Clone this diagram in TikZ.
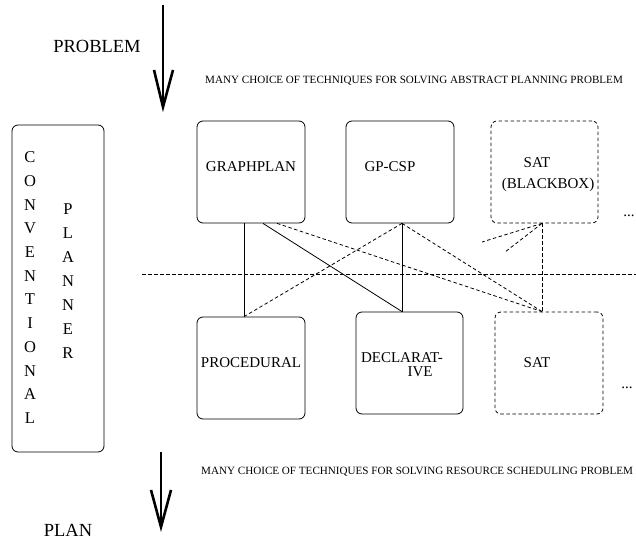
\documentclass[tikz,border=0pt]{standalone}
\usepackage{fontspec}
\setmainfont{Liberation Serif}
\usetikzlibrary{calc}
\begin{document}
\begin{tikzpicture}[x=1pt,y=-1pt,
  box/.style={draw,rounded corners=6pt,line width=0.8pt,inner sep=0pt,minimum width=108pt,minimum height=102pt},
  dbox/.style={box,dash pattern=on 3.5pt off 2.5pt},
  lbl/.style={font=\fontsize{15}{15}\selectfont,inner sep=0pt},
  letter/.style={font=\fontsize{16.5}{16.5}\selectfont,inner sep=0pt},
  note/.style={font=\fontsize{11.1}{11.1}\selectfont,inner sep=0pt,anchor=west},
  big/.style={font=\fontsize{18.5}{18.5}\selectfont,inner sep=0pt},
  link/.style={line width=0.8pt},
  dlink/.style={line width=0.8pt,dash pattern=on 3.5pt off 2.5pt},
  flow/.style={line width=2.6pt}]
\useasboundingbox (0,0) rectangle (636,540);
\clip (0,0) rectangle (636,540);

% flow arrows
\coordinate (ptop) at (163,5);
\coordinate (pbot) at (163,107);
\draw[flow] (ptop) -- (pbot);
\draw[flow,line join=miter] ($(pbot)+(-9,-37)$) -- (pbot) -- ($(pbot)+(10,-37)$);
\coordinate (qtop) at (161,452);
\coordinate (qbot) at (161,527);
\draw[flow] (qtop) -- (qbot);
\draw[flow,line join=miter] ($(qbot)+(-10,-37)$) -- (qbot) -- ($(qbot)+(10,-37)$);
\node[big] (problem) at (97,46) {PROBLEM};
\node[big] (plan) at (68,530) {PLAN};

% captions
\node[note] (absnote) at (205,81) {MANY CHOICE OF TECHNIQUES FOR SOLVING ABSTRACT PLANNING PROBLEM};
\node[note] (resnote) at (201,472) {MANY CHOICE OF TECHNIQUES FOR SOLVING RESOURCE SCHEDULING PROBLEM};

% conventional planner
\node[box,minimum width=92pt,minimum height=327pt] (conv) at (58,288.5) {};
\foreach \ch [count=\i from 0] in {C,O,N,V,E,N,T,I,O,N,A,L}
  \node[letter] (c\i) at (30,157.3+23.7*\i) {\ch};
\foreach \ch [count=\i from 0] in {P,L,A,N,N,E,R}
  \node[letter] (p\i) at (68,209.3+23.9*\i) {\ch};

% abstract planning techniques
\node[box] (graphplan) at (251,172) {};
\node[lbl] (graphplanlbl) at (251,167) {GRAPHPLAN};
\node[box] (gpcsp) at (400,172) {};
\node[lbl] (gpcsplbl) at (390,167) {GP-CSP};
\node[dbox,minimum width=107pt] (sattop) at (544.5,172) {};
\node[lbl] (sattoplbl) at (537,163) {SAT};
\node[lbl] (blackbox) at (548,185) {(BLACKBOX)};
\node[lbl] (moretop) at (629,216) {...};

% resource scheduling techniques
\node[box] (procedural) at (251,368) {};
\node[lbl] (procedurallbl) at (251,363) {PROCEDURAL};
\node[box,minimum width=107pt] (declarative) at (409.5,363) {};
\node[lbl] (declarativelbl) at (402,358) {DECLARAT-};
\node[lbl] (declarativelbl2) at (420,372) {IVE};
\node[dbox] (satbot) at (549,363) {};
\node[lbl] (satbotlbl) at (537,363) {SAT};
\node[lbl] (morebot) at (627,388) {...};

% level separator
\coordinate (sepl) at (142,274);
\coordinate (sepr) at (636,274);
\draw[dlink] (sepl) -- (sepr);

% combinations
\draw[link] ($(graphplan.south)+(-7,0)$) -- ($(procedural.north)+(-7,0)$);
\draw[link] ($(graphplan.south)+(12,0)$) -- ($(declarative.north)+(-7.5,0)$);
\draw[link] ($(gpcsp.south)+(2,0)$) -- ($(declarative.north)+(-7.5,0)$);
\draw[dlink] ($(graphplan.south)+(26,0)$) -- ($(satbot.north)+(-7,0)$);
\draw[dlink] ($(gpcsp.south)+(2,0)$) -- ($(procedural.north)+(-7,0)$);
\draw[dlink] ($(gpcsp.south)+(2,0)$) -- ($(satbot.north)+(-7,0)$);
\draw[dlink] ($(sattop.south)+(-2.5,0)$) -- ($(satbot.north)+(-7,0)$);
\coordinate (stub1) at (482,242);
\coordinate (stub2) at (505,252);
\draw[dlink] ($(sattop.south)+(-2.5,0)$) -- (stub1);
\draw[dlink] ($(sattop.south)+(-2.5,0)$) -- (stub2);
\end{tikzpicture}
\end{document}
